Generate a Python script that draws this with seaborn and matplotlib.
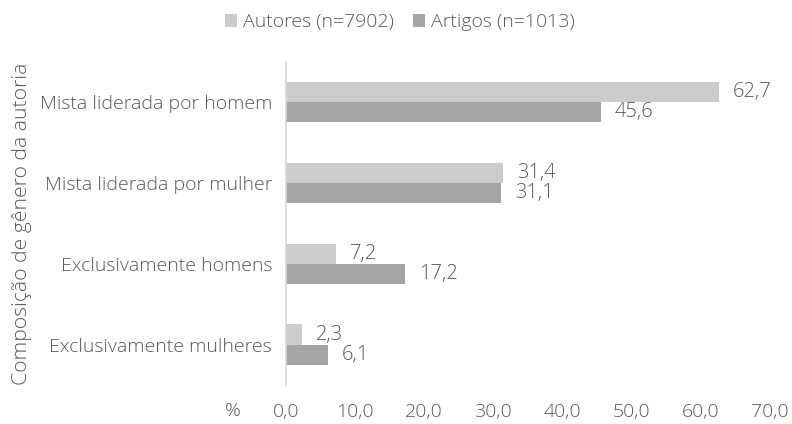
import matplotlib
matplotlib.use("Agg")
import matplotlib.pyplot as plt
import seaborn as sns
import pandas as pd

categories = ["Mista liderada por homem", "Mista liderada por mulher",
              "Exclusivamente homens", "Exclusivamente mulheres"]
autores = [62.7, 31.4, 7.2, 2.3]
artigos = [45.6, 31.1, 17.2, 6.1]
series = ["Autores (n=7902)", "Artigos (n=1013)"]
xticks = [0, 10, 20, 30, 40, 50, 60, 70]

sns.set_theme(style="white")
plt.rcParams["font.family"] = ["Open Sans", "DejaVu Sans"]
plt.rcParams["font.weight"] = 300
txt = "#595959"

df = pd.DataFrame({
    "cat": categories * 2,
    "val": autores + artigos,
    "serie": [series[0]] * 4 + [series[1]] * 4,
})

fig = plt.figure(figsize=(7.92, 4.24), dpi=100)
ax = fig.add_axes([0.361, 0.092, 0.611, 0.762])
sns.barplot(data=df, x="val", y="cat", hue="serie", order=categories,
            hue_order=series, palette=["#cccccc", "#a5a5a5"], orient="h",
            width=0.5, ax=ax, saturation=1, linewidth=0, errorbar=None)

for cont in ax.containers:
    labels = [f"{v:.1f}".replace(".", ",") for v in cont.datavalues]
    ax.bar_label(cont, labels=labels, padding=10, color=txt, fontsize=14.5,
                 fontweight=300)

ax.set_xlim(0, 70)
ax.set_xticks(xticks)
ax.set_xticklabels([f"{v:.1f}".replace(".", ",") for v in xticks],
                   fontweight=300)
ax.set_yticks(range(len(categories)))
ax.set_yticklabels(categories, fontweight=300)
ax.tick_params(axis="x", length=0, labelsize=14, labelcolor=txt, pad=13)
ax.tick_params(axis="y", length=0, labelsize=14, labelcolor=txt, pad=10)
ax.set_xlabel("")
ax.set_ylabel("Composição de gênero da autoria", fontsize=15.2, color=txt,
              fontweight=300)
ax.yaxis.set_label_coords(-0.525, 0.5)
for s in ["top", "right", "bottom"]:
    ax.spines[s].set_visible(False)
ax.spines["left"].set_color("#d9d9d9")
ax.spines["left"].set_linewidth(1.2)
ax.text(-0.11, -0.08, "%", transform=ax.transAxes, ha="center", va="center",
        color=txt, fontsize=14, fontweight=300)

leg = ax.legend(loc="upper center", bbox_to_anchor=(0.505, 1.01),
                bbox_transform=fig.transFigure, ncol=2, frameon=False,
                handlelength=0.6, handleheight=0.6,
                handletextpad=0.3, columnspacing=1.0,
                prop={"size": 14, "weight": 300})
for t in leg.get_texts():
    t.set_color(txt)

fig.savefig("out.png", dpi=100)
